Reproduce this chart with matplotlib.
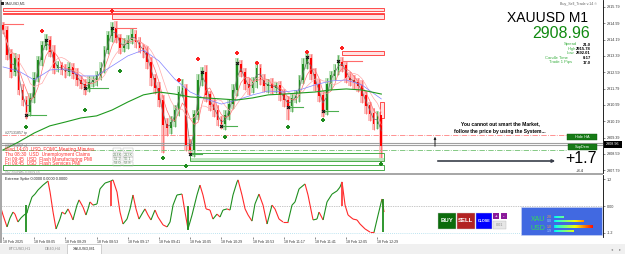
import matplotlib
matplotlib.use('Agg')
import matplotlib.pyplot as plt
from matplotlib.patches import Rectangle, FancyArrowPatch
from matplotlib.collections import LineCollection
import numpy as np
import pandas as pd

plt.rcParams['font.family'] = ['Liberation Sans', 'DejaVu Sans']

W, H = 625, 254
BAR_MIN = 3  # one drawn candle per 3 minutes

# ---------------- data ----------------
first_open = 2914.90
closes = [
    2914.66, 2913.44, 2912.60, 2913.29, 2911.72, 2911.23, 2910.64, 2911.33, 2912.31, 2913.19,
    2913.88, 2914.17, 2913.58, 2912.80, 2912.90, 2912.70, 2912.60, 2912.85, 2912.50, 2912.21,
    2912.01, 2911.82, 2912.11, 2912.21, 2912.41, 2912.80, 2913.68, 2914.37, 2914.76, 2914.27,
    2913.78, 2913.97, 2914.17, 2914.46, 2914.07, 2913.78, 2913.58, 2913.09, 2912.31, 2911.82,
    2911.23, 2910.01, 2909.86, 2910.15, 2910.74, 2911.62, 2911.82, 2909.03, 2908.78, 2910.50,
    2912.21, 2912.60, 2911.48, 2910.99, 2910.74, 2910.25, 2910.05, 2910.45, 2911.03, 2911.72,
    2912.95, 2912.60, 2912.01, 2911.82, 2912.11, 2912.80, 2912.21, 2911.92, 2912.01, 2911.82,
    2911.92, 2911.48, 2911.23, 2910.94, 2911.33, 2911.43, 2912.21, 2912.99, 2913.29, 2912.50,
    2912.01, 2911.43, 2910.74, 2912.01, 2912.41, 2912.70, 2913.09, 2912.90, 2912.31, 2912.21,
    2912.11, 2911.92, 2911.43, 2910.94, 2910.55, 2910.05, 2910.45, 2908.98]
wick_hi = [
    0.15, 0.2, 0.3, 0.25, 0.2, 0.3, 0.2, 0.25, 0.3, 0.2,
    0.25, 0.3, 0.2, 0.35, 0.25, 0.2, 0.3, 0.25, 0.2, 0.3,
    0.2, 0.25, 0.3, 0.2, 0.25, 0.3, 0.2, 0.25, 0.3, 0.35,
    0.2, 0.3, 0.25, 0.3, 0.2, 0.25, 0.2, 0.3, 0.25, 0.2,
    0.3, 0.25, 0.35, 0.3, 0.25, 0.3, 0.45, 0.2, 0.3, 0.25,
    0.3, 0.25, 0.35, 0.2, 0.3, 0.25, 0.2, 0.3, 0.25, 0.3,
    0.35, 0.25, 0.2, 0.3, 0.25, 0.35, 0.2, 0.3, 0.25, 0.3,
    0.2, 0.25, 0.3, 0.2, 0.25, 0.3, 0.25, 0.3, 0.35, 0.2,
    0.3, 0.25, 0.2, 0.3, 0.25, 0.3, 0.35, 0.25, 0.2, 0.3,
    0.25, 0.2, 0.3, 0.25, 0.2, 0.3, 0.25, 0.2]
wick_lo = [
    0.2, 0.25, 0.3, 0.2, 0.25, 0.3, 0.35, 0.2, 0.25, 0.2,
    0.3, 0.2, 0.25, 0.3, 0.2, 0.25, 0.3, 0.2, 0.25, 0.3,
    0.25, 0.35, 0.2, 0.25, 0.3, 0.2, 0.25, 0.2, 0.3, 0.25,
    0.3, 0.2, 0.25, 0.2, 0.3, 0.25, 0.3, 0.35, 0.4, 0.3,
    0.35, 1.38, 0.4, 0.3, 0.25, 0.3, 0.25, 0.3, 0.2, 0.35,
    0.25, 0.3, 0.35, 0.3, 0.35, 0.3, 0.25, 0.3, 0.2, 0.25,
    0.3, 0.25, 0.3, 0.35, 0.25, 0.3, 0.25, 0.3, 0.35, 0.3,
    0.25, 0.3, 0.35, 0.69, 0.3, 0.25, 0.3, 0.2, 0.25, 0.3,
    0.35, 0.3, 0.35, 0.25, 0.3, 0.2, 0.25, 0.3, 0.25, 0.3,
    0.35, 0.3, 0.35, 0.4, 0.35, 0.3, 0.25, 0.79]

ma_bars = [0, 4, 8, 12, 16, 20, 24, 28, 32, 36, 40, 44, 48, 52, 56, 60, 64, 68, 72, 76, 80, 84, 88, 92, 97]
blue_ma = [2912.85, 2912.65, 2912.21, 2912.70, 2912.75, 2912.41, 2912.41, 2912.90, 2913.39, 2913.68,
           2913.14, 2912.26, 2911.62, 2911.28, 2911.03, 2911.23, 2911.48, 2911.67, 2911.62, 2911.72,
           2911.97, 2912.16, 2912.21, 2911.97, 2911.28]
green_ma = [2908.78, 2909.17, 2909.61, 2909.96, 2910.15, 2910.35, 2910.45, 2910.74, 2911.13, 2911.48,
            2911.62, 2911.52, 2911.38, 2911.33, 2911.28, 2911.23, 2911.33, 2911.48, 2911.52, 2911.57,
            2911.62, 2911.72, 2911.77, 2911.72, 2911.52]

sell_bars = [10, 28, 45, 50, 60, 65, 78, 87]
sell_prices = [2914.61, 2915.59, 2912.21, 2913.24, 2913.53, 2913.04, 2913.58, 2913.78]
buy_bars = [6, 21, 30, 41, 47, 57, 73, 82, 97]
buy_prices = [2909.91, 2910.74, 2912.65, 2908.39, 2907.99, 2909.42, 2909.91, 2910.25, 2908.09]
pivot_bars = [6, 11, 21, 28, 48, 51, 56, 60, 73, 78, 82, 86]
pivot_prices = [2910.50, 2914.17, 2911.82, 2914.76, 2908.58, 2912.60, 2909.96, 2913.04,
                2910.89, 2913.34, 2910.69, 2913.14]

# short support / resistance levels (start bar, end bar, price)
sup_levels = [(6, 11, 2910.50), (21, 27, 2911.82), (48, 51, 2908.58), (56, 60, 2909.96),
              (73, 77, 2910.89), (82, 86, 2910.69)]
res_levels = [(0, 5, 2914.95), (29, 34, 2914.76), (87, 92, 2913.14)]

# zones (start bar, end bar, top, bottom, kind)
zones = [(0, 97.6, 2915.74, 2915.59, 'red'), (0, 97.6, 2915.50, 2915.44, 'red'),
         (28, 97.6, 2915.44, 2915.20, 'red'), (87, 97.6, 2913.63, 2913.43, 'red'),
         (96.6, 97.8, 2911.13, 2910.35, 'red'),
         (48, 97.6, 2908.39, 2908.24, 'fill'),
         (48, 97.6, 2908.63, 2908.24, 'green'), (0, 97.6, 2908.05, 2907.80, 'green')]

line_red = 2909.52
line_grey = [2909.12, 2909.00]
line_green = 2908.76

price_ticks = [2915.79, 2914.99, 2914.19, 2913.39, 2912.59, 2911.79, 2910.99, 2910.19,
               2909.39, 2908.59, 2907.79]
last_price = 2908.96

time_ticks = [0, 24, 48, 72, 96, 120, 144, 168, 192, 216, 240, 264, 288]
time_labels = ['18 Feb 2025', '18 Feb 08:05', '18 Feb 08:29', '18 Feb 08:53', '18 Feb 09:17',
               '18 Feb 09:41', '18 Feb 10:05', '18 Feb 10:29', '18 Feb 10:53', '18 Feb 11:17',
               '18 Feb 11:41', '18 Feb 12:05', '18 Feb 12:29']

osc_min = [-2.3, 0, 3.1, 5.4, 7.7, 9.2, 11.5, 13.8, 16.2, 18.5, 19.2, 22.3, 24.6, 26.9, 30.8, 34.6,
           36.2, 38.5, 40.8, 43.8, 45.4, 47.7, 50, 52.3, 53.8, 56.9, 58.5, 61.5, 63.8, 65.4, 66.9,
           69.2, 72.3, 74.6, 78.5, 83.1, 84.6, 87.7, 90, 92.3, 95.4, 97.7, 100, 102.3, 104.6,
           107.7, 109.2, 111.5, 113.8, 116.9, 119.2, 123.1, 126.2, 128.5, 130.8, 133.8, 137.7,
           140, 142.3, 145.4, 149.2, 151.5, 153.8, 156.2, 159.2, 161.5, 164.6, 166.9, 169.2,
           172.3, 174.6, 176.9, 180, 180.8, 183.8, 186.2, 188.5, 191.5, 193.8, 196.9, 200,
           203.1, 206.9, 209.2, 212.3, 215.4, 219.2, 222.3, 224.6, 227.7, 232.3, 234.6, 237.7,
           238.5, 241.5, 243.1, 246.2, 249.2, 253.1, 256.9, 259.2, 260.8, 263.1, 265.4, 269.2,
           272.3, 274.6, 278.5, 282.3, 285.4, 288.5, 291.5, 293.1]
osc_val = [0.04, -0.40, -0.93, -0.53, -0.27, -0.36, -0.71, -0.53, -0.40, -0.31, -0.13, 0.40, 0.53,
           0.71, 0.93, 1.11, 0.62, -0.27, -1.02, -0.58, -0.27, -0.36, -0.13, -0.40, -0.62, 0.04,
           0.27, -0.04, -0.40, -0.13, 0.18, 0.04, 0.09, 0.76, 1.02, 1.11, 1.16, 0.62, -0.27,
           -0.80, -0.58, -0.13, 0.49, -0.13, -0.58, -0.27, -0.13, -0.40, -0.62, -0.18, -0.49,
           -0.84, -0.93, -0.71, 0.04, 0.49, 0.53, -0.27, -1.02, -0.40, 0.49, 0.93, 0.49, -0.13,
           -0.18, -0.58, -0.36, -0.49, -0.18, -0.13, -0.18, 0.49, 1.07, 1.16, 0.49, -0.13, -0.40,
           -0.67, 0.09, 0.53, 0.04, -0.80, 0.04, -0.13, -0.58, -0.71, -0.71, 0.04, 0.18, 0.76,
           0.98, 0.49, -0.40, -0.62, -0.58, -0.27, -0.62, 0.18, 0.53, 0.67, 0.84, 1.07, 0.04,
           -0.40, -0.58, -0.62, -0.80, -1.02, -1.16, -1.16, -0.40, 0.31, -0.27]
spike_min = [17.7, 83.1, 142.3, 260.8, 292.3]
spike_top = [0.04, 1.11, 0.0, 1.07, 0.31]
spike_bot = [-1.16, 0.0, -1.07, 0.0, -1.16]
spike_col = ['#1f8f1f', '#ff3b3b', '#1f8f1f', '#ff3b3b', '#1f8f1f']

news_rows = ['Wed 14:00  USD  FOMC Meeting Minutes', 'Thu 08:30  USD  Unemployment Claims',
             'Fri 09:45  USD  Flash Manufacturing PMI', 'Fri 09:45  USD  Flash Services PMI']
news_forecast = ['', '214K', '51.2', '53.0']
news_previous = ['', '213K', '50.1', '52.8']

info_labels = ['Spread', 'High', 'Low', 'Candle Time', 'Trade 1 Pips']
info_values = ['21.0', '2915.78', '2892.01', '0:17', '17.0']


# ---------------- helpers ----------------
def fx(x):
    return x / W


def fy(y):
    return 1 - y / H


def frect(x0, y0, x1, y1, **kw):
    fig.add_artist(Rectangle((fx(x0), fy(y1)), (x1 - x0) / W, (y1 - y0) / H,
                             transform=fig.transFigure, **kw))


def ftext(x, y, s, **kw):
    kw.setdefault('va', 'center')
    fig.text(fx(x), fy(y), s, **kw)


fig = plt.figure(figsize=(W / 100, H / 100), dpi=100)
fig.patch.set_facecolor('white')

X0, X1 = -0.77, 461.5

# ---------------- main price panel ----------------
ax = fig.add_axes([fx(2), fy(173), 601 / W, 173 / H])
ax.set_xlim(X0, X1)
ax.set_ylim(2907.65, 2916.13)

n = len(closes)
c = np.array(closes)
o = np.array([first_open] + closes[:-1])
bx = np.arange(n) * BAR_MIN
hi = np.maximum(o, c) + np.array(wick_hi)
lo = np.minimum(o, c) - np.array(wick_lo)
bull = c >= o

shade = np.where(bull, '#bfe3bf', '#fcc0c0')
ax.bar(bx, hi - lo, bottom=lo, width=2.9, color=shade, linewidth=0, zorder=1)
ax.vlines(bx, lo, hi, colors=np.where(bull, '#3c9a3c', '#ff5a5a'), linewidth=0.5, zorder=2)
ax.bar(bx, np.abs(c - o) + 0.02, bottom=np.minimum(o, c), width=1.3,
       color=np.where(bull, '#1e8c1e', '#ff0000'), linewidth=0, zorder=3)

s = pd.Series(closes)
ax.plot(bx, s.rolling(2, min_periods=1).mean(), color='#6e6e6e', lw=0.5, zorder=4)
ax.plot(bx, s.rolling(4, min_periods=1).mean(), color='#ff7070', lw=0.5, zorder=4)
ax.plot(bx, s.rolling(7, min_periods=1).mean(), color='#ffaaaa', lw=0.5, zorder=4)
ax.plot(np.array(ma_bars) * BAR_MIN, blue_ma, color='#8080ff', lw=0.5, zorder=4)
ax.plot(np.array(ma_bars) * BAR_MIN, green_ma, color='#1f9a1f', lw=0.8, zorder=4)

zone_style = {'red': ('#ffe3e3', '#ff3030'), 'green': ('none', '#2ea02e'), 'fill': ('#bfe5bf', 'none')}
for b0, b1, top, bot, kind in zones:
    face, edge = zone_style[kind]
    ax.add_patch(Rectangle((b0 * BAR_MIN, bot), (b1 - b0) * BAR_MIN, top - bot,
                           facecolor=face, edgecolor=edge, lw=0.6, zorder=2))

for b0, b1, p in sup_levels:
    ax.plot([b0 * BAR_MIN, b1 * BAR_MIN], [p, p], color='#4caf50', lw=0.8, zorder=5)
for b0, b1, p in res_levels:
    ax.plot([b0 * BAR_MIN, b1 * BAR_MIN], [p, p], color='#ff6b6b', lw=0.8, zorder=5)

ax.scatter(np.array(sell_bars) * BAR_MIN, sell_prices, marker='P', s=8, color='#ff2020',
           linewidths=0, zorder=6)
ax.scatter(np.array(buy_bars) * BAR_MIN, buy_prices, marker='P', s=8, color='#1e8c1e',
           linewidths=0, zorder=6)
ax.scatter(np.array(pivot_bars) * BAR_MIN, pivot_prices, marker='X', s=7, color='#111111',
           linewidths=0, zorder=6)

frac = (567 - 2) / 601
ax.axhline(line_red, xmax=frac, color='#ff8080', lw=0.6, ls='-.', zorder=2)
for p in line_grey:
    ax.axhline(p, color='#a0a0a0', lw=0.8, zorder=2)
ax.axhline(line_green, xmax=frac, color='#70c070', lw=0.6, ls='-.', zorder=2)

ax.yaxis.tick_right()
ax.set_yticks(price_ticks)
ax.set_yticklabels([f'{p:.2f}' for p in price_ticks])
ax.tick_params(axis='y', labelsize=2.7, length=1.5, width=0.4, pad=1, colors='#333333')
ax.set_xticks([])
for side in ['left', 'top', 'bottom']:
    ax.spines[side].set_visible(False)
ax.spines['right'].set_linewidth(0.6)

# ---------------- oscillator panel ----------------
ax2 = fig.add_axes([fx(2), fy(237), 601 / W, 62 / H])
ax2.set_xlim(X0, X1)
ax2.set_ylim(-1.378, 1.378)
pts = np.column_stack([osc_min, osc_val])
segs = np.stack([pts[:-1], pts[1:]], axis=1)
seg_cols = ['#1f8f1f' if b > a else '#ff2a2a' for a, b in zip(osc_val[:-1], osc_val[1:])]
ax2.add_collection(LineCollection(segs, colors=seg_cols, linewidths=0.8, zorder=3))
ax2.vlines(spike_min, spike_bot, spike_top, colors=spike_col, linewidth=1.3, zorder=3)
ax2.axhline(0, color='#909090', lw=0.5, ls=(0, (1, 1.5)), zorder=1)
ax2.axhline(-1.2, color='#a8dcec', lw=0.6, ls=(0, (1, 1.5)), zorder=1)
ax2.text(1.5, 1.2, 'Extreme Spike 0.0000 0.0000 0.0000', fontsize=2.7, va='center', color='#222222')
ax2.yaxis.tick_right()
ax2.set_yticks([1.2, 0, -1.2])
ax2.set_yticklabels(['1.2', '0.00', '-1.2'])
ax2.tick_params(axis='y', labelsize=2.7, length=1.5, width=0.4, pad=1, colors='#333333')
ax2.set_xticks(time_ticks)
ax2.set_xticklabels(time_labels, ha='left')
ax2.tick_params(axis='x', labelsize=2.6, length=1.5, width=0.4, pad=0.8, colors='#333333')
for side in ['left', 'top', 'bottom']:
    ax2.spines[side].set_visible(False)
ax2.spines['right'].set_linewidth(0.6)

# ---------------- frame pieces ----------------
frect(0, 0, 2, 243, facecolor='#a8a8a8', edgecolor='none')
frect(0, 172.6, 603, 174.6, facecolor='#a8a8a8', edgecolor='none')
frect(0, 243.5, W, H, facecolor='#f0f0f0', edgecolor='none')
frect(0, 243.5, W, 244.2, facecolor='#b0b0b0', edgecolor='none')
frect(67, 244, 101, 253.5, facecolor='white', edgecolor='#b0b0b0', lw=0.4)
ftext(20, 249, 'BTCUSD,H1', fontsize=2.8, color='#8a8a8a', ha='center')
ftext(53, 249, 'DE40,H4', fontsize=2.8, color='#8a8a8a', ha='center')
ftext(84, 249, 'XAUUSD,M1', fontsize=2.8, color='#333333', ha='center')
ftext(612, 249, '\u25c2', fontsize=3, color='#888888', ha='center', family='DejaVu Sans')
ftext(620, 249, '\u25b8', fontsize=3, color='#888888', ha='center', family='DejaVu Sans')

# top-left title
frect(1, 2, 3.5, 5, facecolor='#222222', edgecolor='none')
ftext(5, 3.6, 'XAUUSD,M1', fontsize=2.6, color='#333333')
ftext(597, 3.6, 'Buy_Sell_Trade v.14 \u00a9', fontsize=2.6, color='#666666', ha='right')

# symbol / price info block
ftext(588, 17.5, 'XAUUSD M1', fontsize=10, color='black', ha='right')
ftext(590, 34, f'{last_price:.2f}', fontsize=11.5, color='#118a11', ha='right')
info_y = [44.5, 49, 53.5, 58, 62.5]
label_x = [577, 576, 574, 568, 572]
for yy, lx, lab, val in zip(info_y, label_x, info_labels, info_values):
    ftext(lx, yy, lab, fontsize=3.0, color='#3cb043', ha='right')
    ftext(591, yy, val, fontsize=3.0, color='black', ha='right', fontweight='bold')

# motto and arrows
ftext(500, 124, 'You cannot out smart the Market,', fontsize=3.6, fontweight='bold', ha='center')
ftext(500, 131, 'follow the price by using the System...', fontsize=3.6, fontweight='bold', ha='center')
fig.add_artist(FancyArrowPatch((fx(435), fy(149)), (fx(435), fy(134)), transform=fig.transFigure,
                               arrowstyle='-|>', mutation_scale=3, lw=0.7, color='#222222'))
fig.add_artist(FancyArrowPatch((fx(435), fy(161)), (fx(558), fy(161)), transform=fig.transFigure,
                               arrowstyle='-|>', mutation_scale=4, lw=1.2, color='#3a3f4a'))
ftext(581, 158.5, '+1.7', fontsize=11.5, color='black', ha='center')
ftext(580, 171, '+8.4', fontsize=3.0, color='#222222', ha='center')

# chart buttons
frect(567, 133.5, 597, 139.5, facecolor='#157a15', edgecolor='#0d5a0d', lw=0.3)
ftext(582, 136.5, 'Hide HA', fontsize=2.8, color='white', ha='center')
frect(568, 143.5, 597, 149.8, facecolor='#157a15', edgecolor='#0d5a0d', lw=0.3)
ftext(582.5, 146.7, 'SupDem', fontsize=2.8, color='white', ha='center')

# last price tag
frect(604, 141.2, 622, 147.6, facecolor='black', edgecolor='none')
ftext(613, 144.4, f'{last_price:.2f}', fontsize=2.7, color='white', ha='center')

# order ticket labels
ftext(5, 133, '#27131857 tp', fontsize=2.6, color='#555555')
ftext(5, 146, '#27131857 sl', fontsize=2.6, color='#777777')

# news block
news_y = [150, 154.5, 159, 163.5]
for yy, row, fc, pv in zip(news_y, news_rows, news_forecast, news_previous):
    ftext(5, yy, row, fontsize=3.4, color='#ff3030')
    frect(113, yy - 2, 121.5, yy + 2, facecolor='none', edgecolor='#b0b0b0', lw=0.3)
    frect(123, yy - 2, 133, yy + 2, facecolor='none', edgecolor='#b0b0b0', lw=0.3)
    ftext(117.3, yy, fc, fontsize=2.8, color='#6b8e6b', ha='center')
    ftext(128, yy, pv, fontsize=2.8, color='#6b8e6b', ha='center')
ftext(5, 171.8, 'NO SIGNAL EVENTS', fontsize=2.6, color='#999999')

# trade buttons in oscillator panel
frect(438, 212.5, 455.5, 228.5, facecolor='#0b6b0b', edgecolor='#cccccc', lw=0.3)
ftext(446.8, 220.5, 'BUY', fontsize=4.3, color='white', ha='center', fontweight='bold')
frect(457, 212.5, 474.5, 228.5, facecolor='#b22222', edgecolor='#cccccc', lw=0.3)
ftext(465.8, 220.5, 'SELL', fontsize=4.3, color='white', ha='center', fontweight='bold')
frect(476, 212.5, 492, 228.5, facecolor='#0000ff', edgecolor='#cccccc', lw=0.3)
ftext(484, 220.5, 'CLOSE', fontsize=2.7, color='white', ha='center', fontweight='bold')
frect(493, 213, 499, 219, facecolor='#8a1a9a', edgecolor='none')
ftext(496, 216, '+', fontsize=3.2, color='white', ha='center', fontweight='bold')
frect(500.5, 213, 506.5, 219, facecolor='#8a1a9a', edgecolor='none')
ftext(503.5, 216, '-', fontsize=3.2, color='white', ha='center', fontweight='bold')
frect(493, 221, 506.5, 228.5, facecolor='#e6e6e6', edgecolor='#b8b8b8', lw=0.3)
ftext(499.7, 224.8, '0.01', fontsize=2.7, color='#888888', ha='center')

# currency strength panel
frect(521, 207, 602, 235, facecolor='#4169e1', edgecolor='#cfd8f5', lw=0.4)
ftext(545, 219.5, 'XAU', fontsize=5, color='#33dd55', ha='right')
ftext(545, 229, 'USD', fontsize=5, color='#33dd55', ha='right')
for yy, a, b in [(217, '2.0', '0.0'), (227, '1.0', '1.9')]:
    ftext(547, yy, a, fontsize=2.6, color='#ffa040')
    ftext(547, yy + 4, b, fontsize=2.6, color='#a0c8ff')
cmap = plt.get_cmap('jet')
for yy, length in [(217, 10), (221, 30), (226.5, 39), (231, 20)]:
    for k in range(int(length)):
        frect(554 + k, yy - 1.2, 555 + k, yy + 1.2,
              facecolor=cmap(0.35 + 0.55 * k / 39), edgecolor='none')

fig.savefig('out.png', dpi=100)
